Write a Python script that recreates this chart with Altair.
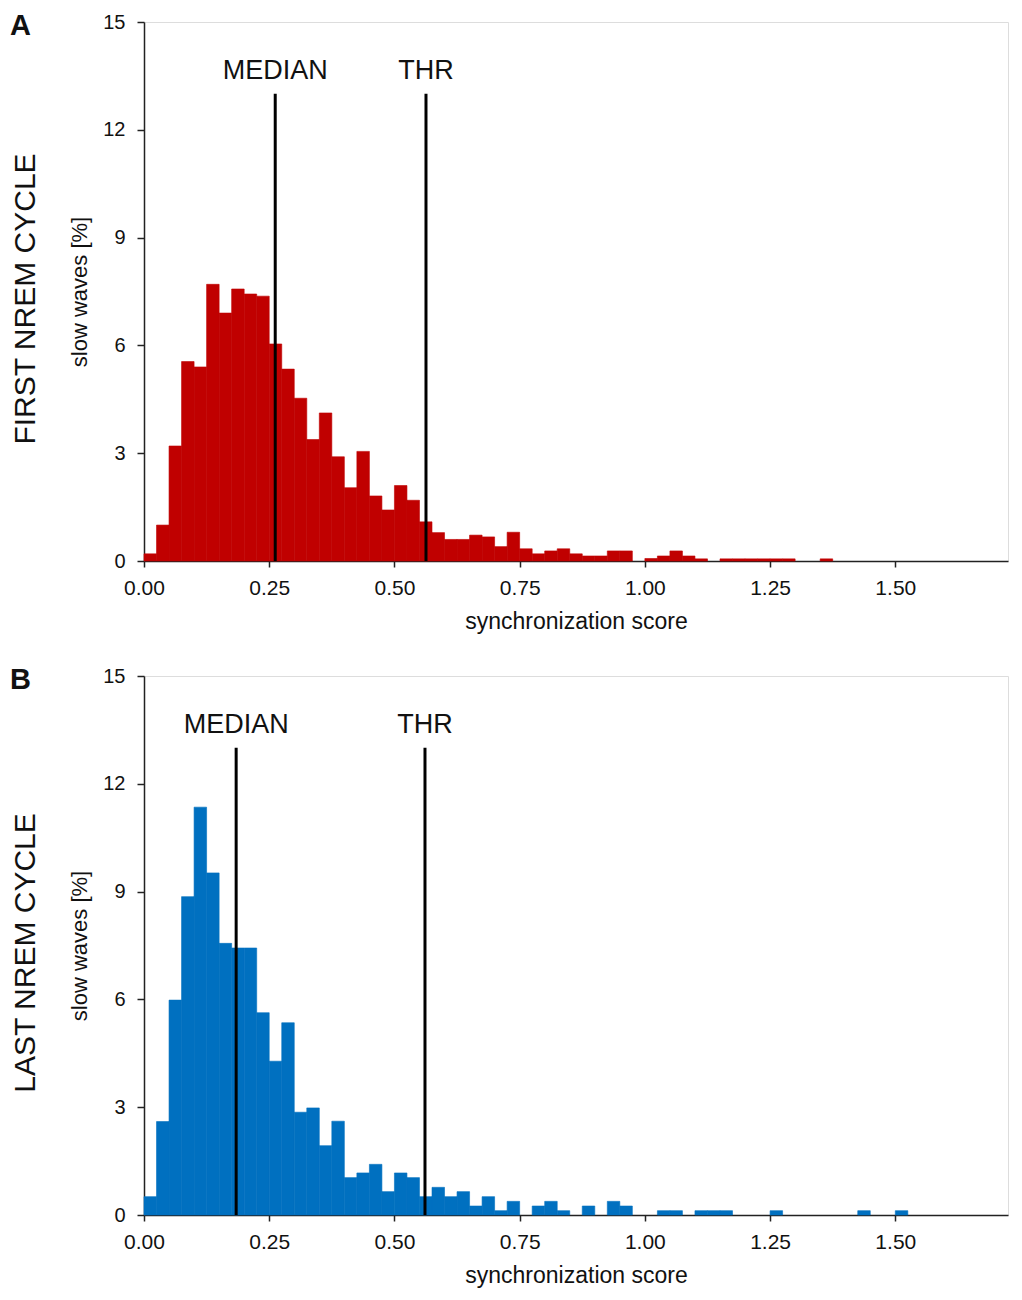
import altair as alt
import pandas as pd

FONT = "Liberation Sans"
BIN_W = 0.025

# bin heights (% of slow waves), bins of width 0.025 starting at 0
first_heights = [0.2, 1.0, 3.2, 5.55, 5.4, 7.7, 6.9, 7.57, 7.43, 7.37,
                 6.04, 5.34, 4.53, 3.38, 4.12, 2.9, 2.04, 3.05, 1.81, 1.42,
                 2.1, 1.69, 1.09, 0.79, 0.6, 0.6, 0.72, 0.67, 0.4, 0.8,
                 0.34, 0.2, 0.28, 0.34, 0.2, 0.14, 0.14, 0.28, 0.28, 0.0,
                 0.07, 0.14, 0.28, 0.14, 0.06, 0.0, 0.06, 0.06, 0.06, 0.06,
                 0.06, 0.06, 0.0, 0.0, 0.06]
last_heights = [0.51, 2.6, 5.98, 8.86, 11.35, 9.52, 7.56, 7.43, 7.43, 5.63,
                4.28, 5.35, 2.86, 2.98, 1.93, 2.61, 1.04, 1.17, 1.41, 0.65,
                1.17, 1.04, 0.51, 0.77, 0.51, 0.65, 0.25, 0.51, 0.12, 0.38,
                0.0, 0.25, 0.38, 0.12, 0.0, 0.25, 0.0, 0.38, 0.25, 0.0,
                0.0, 0.12, 0.12, 0.0, 0.12, 0.12, 0.12, 0.0, 0.0, 0.0,
                0.12, 0.0, 0.0, 0.0, 0.0, 0.0, 0.0, 0.12, 0.0, 0.0,
                0.12]

first_median, first_thr = 0.262, 0.563
last_median, last_thr = 0.184, 0.561
marker_labels = ["MEDIAN", "THR"]
marker_top = 13
label_level = 13.65

x_ticks = [0.0, 0.25, 0.5, 0.75, 1.0, 1.25, 1.5]
y_ticks = [0, 3, 6, 9, 12, 15]

W, H = 864, 539


def panel(heights, color, median, thr, letter, row_title):
    df = pd.DataFrame({"start": [i * BIN_W for i in range(len(heights))],
                       "pct": heights})
    df["end"] = df["start"] + BIN_W
    df = df[df["pct"] > 0]

    xscale = alt.Scale(domain=[0, 1.725], nice=False, zero=False)
    yscale = alt.Scale(domain=[0, 15], nice=False)

    xaxis = alt.Axis(values=x_ticks, format=".2f", title="synchronization score",
                     grid=False, labelFont=FONT, labelFontSize=21, titleFont=FONT,
                     titleFontSize=23, titleFontWeight="normal", labelColor="#111",
                     titleColor="#111", domainColor="#222", tickColor="#222",
                     domainWidth=1.5, tickWidth=1.5, tickSize=6, labelPadding=10,
                     titlePadding=12, labelFlush=False)
    yaxis = alt.Axis(values=y_ticks, title="slow waves [%]", grid=False,
                     labelFont=FONT, labelFontSize=20, titleFont=FONT,
                     titleFontSize=22, titleFontWeight="normal", labelColor="#111",
                     titleColor="#111", domainColor="#222", tickColor="#222",
                     domainWidth=1.5, tickWidth=1.5, tickSize=7, labelPadding=12,
                     titlePadding=11)

    bars = alt.Chart(df).mark_rect(color=color, stroke=color, strokeWidth=0.6).encode(
        x=alt.X("start:Q", scale=xscale, axis=xaxis),
        x2="end:Q",
        y=alt.Y("pct:Q", scale=yscale, axis=yaxis),
    )

    mdf = pd.DataFrame({"x": [median, thr], "label": marker_labels,
                        "bottom": [0, 0], "top": [marker_top, marker_top],
                        "ly": [label_level, label_level]})
    rules = alt.Chart(mdf).mark_rule(color="black", strokeWidth=3).encode(
        x="x:Q", y="bottom:Q", y2="top:Q")
    labels = alt.Chart(mdf).mark_text(font=FONT, fontSize=27, color="#111",
                                      align="center", baseline="middle").encode(
        x="x:Q", y="ly:Q", text="label:N")

    letter_c = alt.Chart(pd.DataFrame({"t": [letter]})).mark_text(
        font=FONT, fontSize=29, fontWeight="bold", color="#111", align="left",
        baseline="alphabetic").encode(x=alt.value(-134), y=alt.value(13), text="t:N")
    row_c = alt.Chart(pd.DataFrame({"t": [row_title]})).mark_text(
        font=FONT, fontSize=30, color="#111", angle=270, align="center",
        baseline="middle").encode(x=alt.value(-118), y=alt.value(277), text="t:N")

    return alt.layer(bars, rules, labels, letter_c, row_c).properties(width=W, height=H)


top = panel(first_heights, "#C00000", first_median, first_thr, "A", "FIRST NREM CYCLE")
bottom = panel(last_heights, "#0070C0", last_median, last_thr, "B", "LAST NREM CYCLE")

chart = alt.vconcat(top, bottom, spacing=31).properties(
    padding={"left": 1, "top": 3, "right": 5, "bottom": 5}
).configure_view(stroke=None).configure(background="white")

chart.save("out.html", embed_options={"renderer": "svg", "actions": False})
